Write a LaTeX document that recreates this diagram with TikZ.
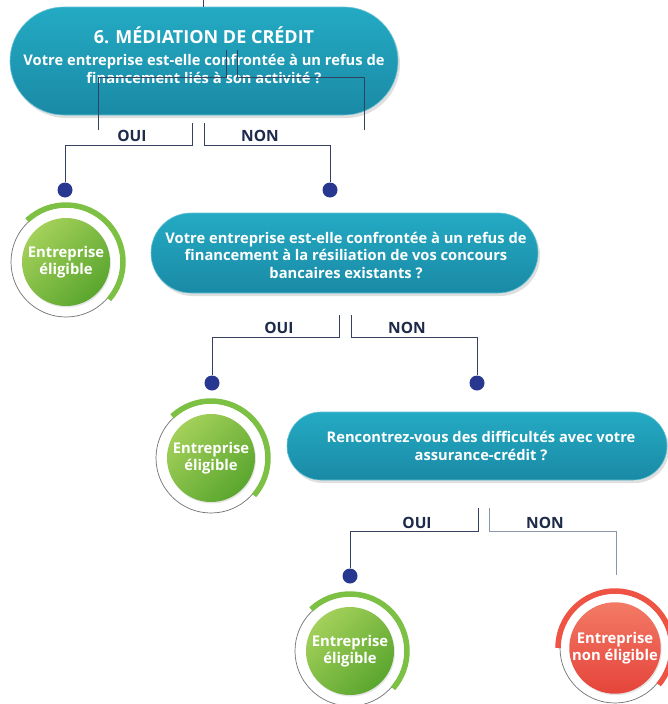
\documentclass[tikz,border=0pt]{standalone}
\usepackage{fontspec}
\setmainfont{Open Sans}
\usetikzlibrary{shapes.misc,shadows,calc}
\definecolor{tealtop}{HTML}{24AAC3}
\definecolor{tealbot}{HTML}{1A8AA6}
\definecolor{linec}{HTML}{34405E}
\definecolor{linelight}{HTML}{8C96AA}
\definecolor{dotc}{HTML}{283790}
\definecolor{labc}{HTML}{1E2A4A}
\definecolor{gtop}{HTML}{A3D05A}
\definecolor{gbot}{HTML}{5AA62E}
\definecolor{gring}{HTML}{7CC143}
\definecolor{rtop}{HTML}{F37A66}
\definecolor{rbot}{HTML}{E5443A}
\definecolor{rring}{HTML}{EE5343}
\definecolor{ringgray}{HTML}{707070}
\tikzset{
  pill/.style={rounded rectangle, top color=tealtop, bottom color=tealbot,
    draw=tealtop!70!white, line width=0.6pt, inner sep=0pt,
    drop shadow={opacity=0.25, shadow xshift=2pt, shadow yshift=-3pt}},
  qtext/.style={text=white, align=center, inner sep=0pt,
    font=\bfseries\fontsize{14.7}{17.5}\selectfont},
  conn/.style={draw=linec, line width=0.9pt},
  connlight/.style={draw=linelight, line width=0.9pt},
  dotnode/.style={circle, fill=dotc, minimum size=15pt, inner sep=0pt},
  lab/.style={font=\bfseries\fontsize{15.5}{17}\selectfont, text=labc},
  gball/.style={circle, minimum size=88pt, inner sep=0pt, shading=axis,
    top color=gtop, bottom color=gbot, shading angle=45, text=white, align=center,
    font=\bfseries\fontsize{14.8}{17}\selectfont,
    drop shadow={opacity=0.2, shadow xshift=1pt, shadow yshift=-1.5pt}},
  rball/.style={gball, top color=rtop, bottom color=rbot},
  grayring/.style={draw=ringgray, line width=0.7pt},
  gringarc/.style={draw=gring, line width=5.5pt},
  rringarc/.style={draw=rring, line width=5.5pt},
}
\begin{document}
\begin{tikzpicture}[x=1pt,y=1pt]
\useasboundingbox (0,0) rectangle (668,-704);
\clip (0,0) rectangle (668,-704);
\fill[white] (0,0) rectangle (668,-704);

% ---------- question 1 ----------
\coordinate (top) at (203,0);
\node[pill, minimum width=388pt, minimum height=108pt] (q1) at (204,-61) {};
\node[qtext] (q1t) at (204,-55) {{\fontsize{18}{20}\selectfont 6. MÉDIATION DE CRÉDIT}\\[5pt]
  Votre entreprise est-elle confrontée à un refus de\\ financement liés à son activité ?};
\draw[conn] (top) -- (top |- q1.north);

% stray lines over question 1
\coordinate (s1a) at (226,-50);
\coordinate (s1b) at (98,-77);
\coordinate (s1c) at (98,-130);
\coordinate (s2a) at (237,-50);
\coordinate (s2b) at (364,-77);
\coordinate (s2c) at (364,-130);
\draw[conn] (s1a) |- (s1b) -- (s1c);
\draw[conn] (s2a) |- (s2b) -- (s2c);

% branches 1
\coordinate (b1l) at (192,-123);
\coordinate (b1r) at (204,-123);
\node[dotnode] (d1) at (65,-190) {};
\node[dotnode] (d2) at (330,-190) {};
\draw[conn] (b1l) -- ++(0,-22) -| (d1);
\draw[conn] (b1r) -- ++(0,-22) -| (d2);
\node[lab] (oui1) at (132,-136) {OUI};
\node[lab] (non1) at (260,-136) {NON};

% result 1
\coordinate (e1c) at (66,-262);
\draw[grayring] (e1c) circle[radius=55];
\draw[gringarc] ($(e1c)+(133:57)$) arc[start angle=133, end angle=-41, radius=57];
\node[gball] (e1) at (e1c) {Entreprise\\éligible};

% ---------- question 2 ----------
\node[pill, minimum width=387pt, minimum height=80pt] (q2) at (344.5,-253) {};
\node[qtext] (q2t) at (346,-255) {Votre entreprise est-elle confrontée à un refus de\\
  financement à la résiliation de vos concours\\ bancaires existants ?};

\coordinate (b2l) at (339,-315);
\coordinate (b2r) at (351,-315);
\node[dotnode] (d3) at (212,-383) {};
\node[dotnode] (d4) at (477,-383) {};
\draw[conn] (b2l) -- ++(0,-22) -| (d3);
\draw[conn] (b2r) -- ++(0,-22) -| (d4);
\node[lab] (oui2) at (279,-328) {OUI};
\node[lab] (non2) at (407,-328) {NON};

% result 2
\coordinate (e2c) at (211,-458);
\draw[grayring] (e2c) circle[radius=55];
\draw[gringarc] ($(e2c)+(133:57)$) arc[start angle=133, end angle=-41, radius=57];
\node[gball] (e2) at (e2c) {Entreprise\\éligible};

% ---------- question 3 ----------
\node[pill, minimum width=380pt, minimum height=68pt] (q3) at (477,-446) {};
\node[qtext] (q3t) at (481,-446) {Rencontrez-vous des difficultés avec votre\\ assurance-crédit ?};

\coordinate (b3l) at (478,-508);
\coordinate (b3r) at (489,-508);
\node[dotnode] (d5) at (350,-576) {};
\coordinate (end6) at (616,-575);
\draw[conn] (b3l) -- ++(0,-23) -| (d5);
\draw[connlight] (b3r) -- ++(0,-23) -| (end6);
\node[lab] (oui3) at (417,-523) {OUI};
\node[lab] (non3) at (545,-523) {NON};

% result 3
\coordinate (e3c) at (350,-651);
\draw[grayring] (e3c) circle[radius=55];
\draw[gringarc] ($(e3c)+(133:57)$) arc[start angle=133, end angle=-41, radius=57];
\node[gball] (e3) at (e3c) {Entreprise\\éligible};

% result 4
\coordinate (e4c) at (615,-648);
\draw[grayring] (e4c) circle[radius=55];
\draw[rringarc] ($(e4c)+(180:57)$) arc[start angle=180, end angle=-40, radius=57];
\node[rball] (e4) at (e4c) {Entreprise\\non éligible};
\end{tikzpicture}
\end{document}
